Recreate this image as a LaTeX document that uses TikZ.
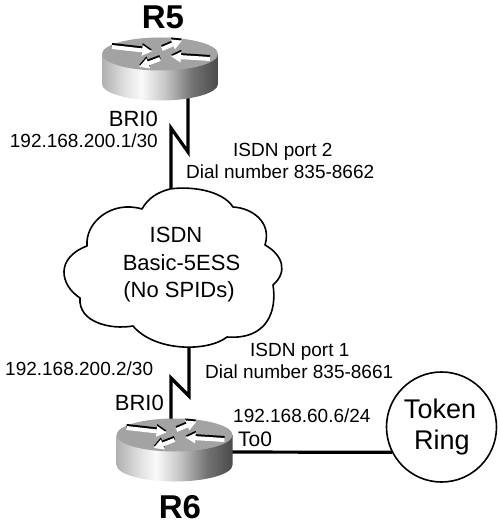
\documentclass[tikz,border=0pt]{standalone}
\usepackage{fontspec}
\setmainfont{Liberation Sans}
\usetikzlibrary{arrows.meta,calc}
\pgfdeclarehorizontalshading{routerbody}{100bp}{
  color(0bp)=(black!68); color(12bp)=(black!55); color(35bp)=(black!12); color(42bp)=(black!2);
  color(52bp)=(black!22); color(64bp)=(black!55); color(80bp)=(black!78); color(100bp)=(black!90)}
\tikzset{
  x=1pt,y=-1pt,
  lbl/.style={inner sep=0pt,anchor=base west,font=\fontsize{19}{19}\selectfont},
  lblr/.style={lbl,anchor=base east},
  iface/.style={inner sep=0pt,anchor=base east,font=\fontsize{22}{22}\selectfont},
  ifacel/.style={inner sep=0pt,anchor=base west,font=\fontsize{21}{21}\selectfont},
  lblc/.style={inner sep=0pt,anchor=base,font=\fontsize{22}{22}\selectfont},
  big/.style={inner sep=0pt,anchor=base,font=\fontsize{27}{27}\selectfont},
  title/.style={inner sep=0pt,anchor=base,font=\fontsize{33}{33}\selectfont\bfseries},
  wire/.style={line width=3.2pt,line join=miter,miter limit=10},
  cloudline/.style={line width=1.6pt,fill=white,line join=round},
  arrowshadow/.style={line width=4pt,black,-{Triangle[width=10pt,length=10pt]}},
  arrowwhite/.style={line width=4pt,white,-{Triangle[width=10pt,length=10pt]}},
  pics/router/.style={code={
    \shade[shading=routerbody] (-58,0) -- (-58,30)
      .. controls (-58,39) and (-32,46.5) .. (0,46.5)
      .. controls (32,46.5) and (58,39) .. (58,30) -- (58,0) -- cycle;
    \fill[black!36] (0,0) ellipse [x radius=58pt,y radius=16.5pt];
    \foreach \xa/\ya/\xb/\yb in {-48/-7/-8/-2.5, 50/5/11/2.5, 2/-5/22/-13.5, 0/5/-21/13}{
      \draw[arrowshadow] (\xa,\ya-2) -- (\xb,\yb-2);
      \draw[arrowwhite] (\xa,\ya) -- (\xb,\yb);
    }
  }}
}
\begin{document}
\begin{tikzpicture}
\useasboundingbox (0,0) rectangle (500,526);
\fill[white] (0,0) rectangle (500,526);

% connectors' named points
\coordinate (r5c) at (160,54);
\coordinate (r6c) at (174.5,435);
\coordinate (top5) at (188,90);
\coordinate (k5a) at (188,152);
\coordinate (k5b) at (171,128);
\coordinate (cloudtop) at (171,195);
\coordinate (cloudbot) at (189,340);
\coordinate (k6a) at (189,396);
\coordinate (k6b) at (171,378);
\coordinate (top6) at (171,425);
\coordinate (to0) at (225,452);

% Token Ring
\node[circle,draw,line width=1.6pt,minimum size=110pt,inner sep=0pt,fill=white] (ring) at (441.5,427) {};

\draw[wire] (top5) -- (k5a) -- (k5b) -- (cloudtop);
\draw[wire] (cloudbot) -- (k6a) -- (k6b) -- (top6);
\draw[wire] (to0) -- (ring.207);

% Cloud
\draw[cloudline] (170,189)
  .. controls (190,186) and (222,190) .. (233,207)
  .. controls (252,208) and (272,222) .. (265,245)
  .. controls (283,255) and (288,272) .. (273,285)
  .. controls (277,310) and (268,340) .. (227,337)
  .. controls (208,352) and (155,352) .. (133,326)
  .. controls (110,330) and (78,322) .. (80,298)
  .. controls (60,285) and (55,258) .. (87,246)
  .. controls (85,222) and (112,200) .. (142,209)
  .. controls (148,198) and (158,192) .. (170,189) -- cycle;

% Routers
\pic at (r5c) {router};
\pic at (r6c) {router};

% Labels
\node[title] (r5) at (163,29) {R5};
\node[title] (r6) at (180,518) {R6};
\node[iface] (bri5) at (158,127) {BRI0};
\node[lblr] (ip5) at (158,148) {192.168.200.1/30};
\node[lbl] (port2) at (233,157) {ISDN port 2};
\node[lbl] (dial2) at (186,179) {Dial number 835-8662};
\node[lblc] (c1) at (176,242) {ISDN};
\node[lblc] (c2) at (181.5,270) {Basic-5ESS};
\node[lblc] (c3) at (179,297) {(No SPIDs)};
\node[lbl] (port1) at (250,356) {ISDN port 1};
\node[lbl] (dial1) at (205,378) {Dial number 835-8661};
\node[lbl] (ip6) at (5,375) {192.168.200.2/30};
\node[iface] (bri6) at (164,410) {BRI0};
\node[lbl] (ip60) at (233,422) {192.168.60.6/24};
\node[ifacel] (to) at (238,446) {To0};
\node[big] (tok) at (440,418) {Token};
\node[big] (rng) at (442,449) {Ring};
\end{tikzpicture}
\end{document}
